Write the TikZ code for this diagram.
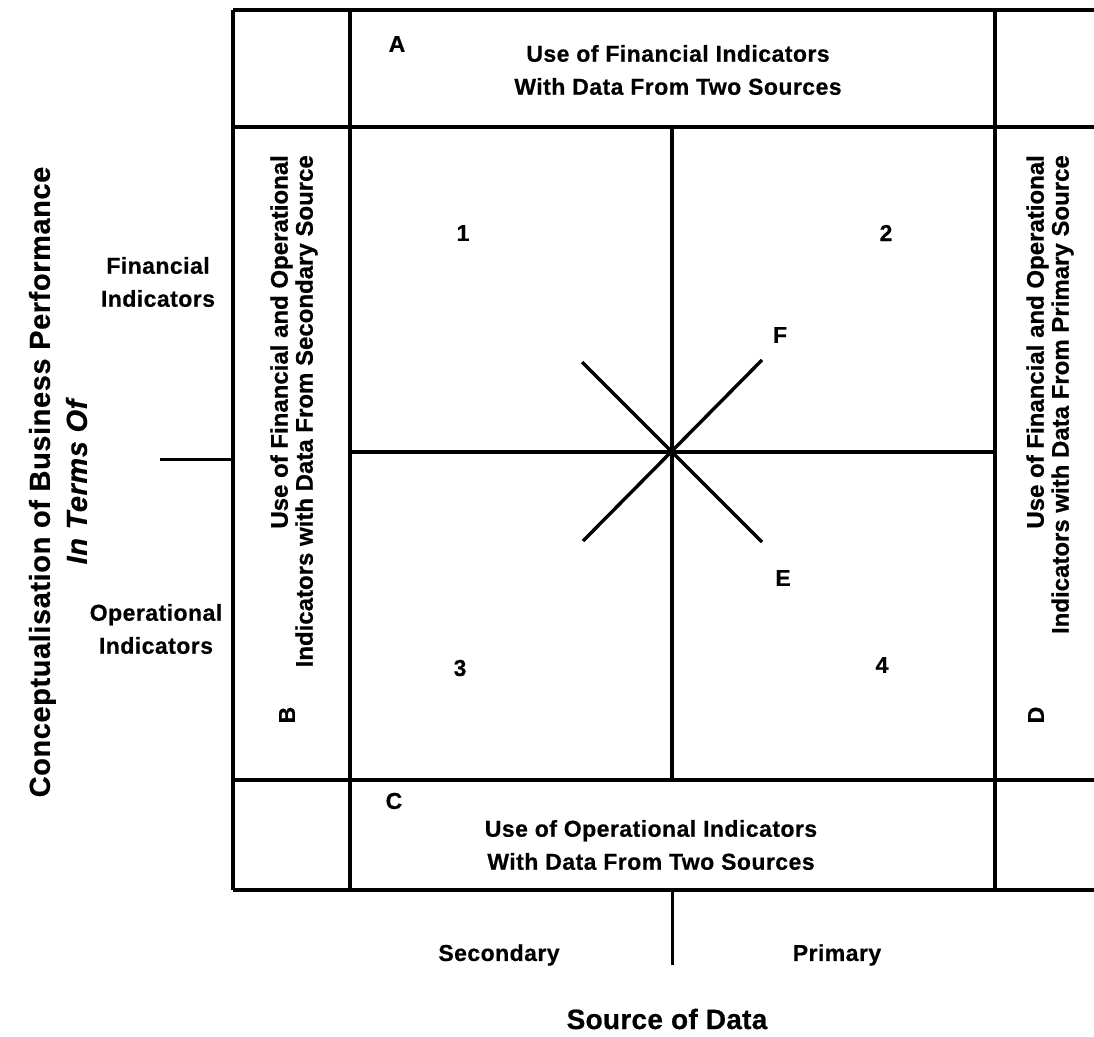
\documentclass[tikz,border=0pt]{standalone}
\usepackage{fontspec}
\setmainfont{Liberation Sans}[LetterSpace=2, BoldFeatures={FakeBold=0.6}, BoldItalicFeatures={FakeBold=0.6}]
\begin{document}
\begin{tikzpicture}[x=1pt,y=-1pt,
  rule/.style={line width=3.4pt},
  tick/.style={line width=3pt},
  lbl/.style={font=\fontsize{23}{33}\selectfont\bfseries, inner sep=0pt, align=center},
  big/.style={font=\fontsize{28}{34}\selectfont\bfseries, inner sep=0pt, align=center},
  axis/.style={font=\fontsize{29}{37}\selectfont\bfseries, inner sep=0pt, align=center, rotate=90},
  side/.style={font=\fontsize{24}{25}\selectfont\bfseries\addfontfeature{LetterSpace=0}, inner sep=0pt, rotate=90, align=right},
]
\useasboundingbox (0,0) rectangle (1094,1036);

% grid corners and dividers
\coordinate (o-tl) at (233,10);
\coordinate (o-tr) at (1094,10);
\coordinate (o-bl) at (233,890);
\coordinate (o-br) at (1094,890);
\coordinate (v1-t) at (350,10);
\coordinate (v1-b) at (350,890);
\coordinate (v2-t) at (995,10);
\coordinate (v2-b) at (995,890);
\coordinate (h1-l) at (233,127);
\coordinate (h1-r) at (1094,127);
\coordinate (h2-l) at (233,780);
\coordinate (h2-r) at (1094,780);
\coordinate (mv-t) at (672,127);
\coordinate (mv-b) at (672,780);
\coordinate (mh-l) at (350,452);
\coordinate (mh-r) at (995,452);

% diagonal ends
\coordinate (d-nw) at (582,362);
\coordinate (d-se) at (762,542);
\coordinate (d-sw) at (583,541);
\coordinate (d-ne) at (762,360);

% axis ticks
\coordinate (lt-a) at (160,459);
\coordinate (lt-b) at (233,459);
\coordinate (bt-a) at (672,890);
\coordinate (bt-b) at (672,965);

% frame
\draw[rule] (o-tl) -- (o-tr);
\draw[rule] (o-bl) -- (o-br);
\draw[rule] (o-tl) -- (o-bl);
\draw[rule] (v1-t) -- (v1-b);
\draw[rule] (v2-t) -- (v2-b);
\draw[rule] (h1-l) -- (h1-r);
\draw[rule] (h2-l) -- (h2-r);
\draw[rule] (mv-t) -- (mv-b);
\draw[rule] (mh-l) -- (mh-r);
\draw[rule] (d-nw) -- (d-se);
\draw[rule] (d-sw) -- (d-ne);
\draw[tick] (lt-a) -- (lt-b);
\draw[tick] (bt-a) -- (bt-b);

% band labels
\node[lbl] (la) at (397,44) {A};
\node[lbl] (ta) at (678,70) {Use of Financial Indicators\\With Data From Two Sources};
\node[lbl] (lc) at (394,801) {C};
\node[lbl] (tc) at (651,845) {Use of Operational Indicators\\With Data From Two Sources};

\node[lbl, rotate=90] (lb) at (287,715) {B};
\node[side, anchor=east] (tb) at (294,155) {Use of Financial and Operational\\Indicators with Data From Secondary Source};
\node[lbl, rotate=90] (ld) at (1036,715) {D};
\node[side, anchor=east] (td) at (1050,155) {Use of Financial and Operational\\Indicators with Data From Primary Source};

% cell numbers and diagonal letters
\node[lbl] (n1) at (463,233) {1};
\node[lbl] (n2) at (886,233) {2};
\node[lbl] (n3) at (460,668) {3};
\node[lbl] (n4) at (882,665) {4};
\node[lbl] (lf) at (780,335) {F};
\node[lbl] (le) at (783,578) {E};

% vertical axis
\node[lbl] (fin) at (158,282) {Financial\\Indicators};
\node[lbl] (ops) at (156,629) {Operational\\Indicators};
\node[axis] (yax) at (58,482) {Conceptualisation of Business Performance\\\itshape In Terms Of};

% horizontal axis
\node[lbl] (sec) at (499,955) {Secondary};
\node[lbl] (pri) at (837,955) {Primary};
\node[big, font=\fontsize{28}{34}\selectfont\bfseries\addfontfeature{LetterSpace=1}] (xax) at (667,1019) {Source of Data};
\end{tikzpicture}
\end{document}
